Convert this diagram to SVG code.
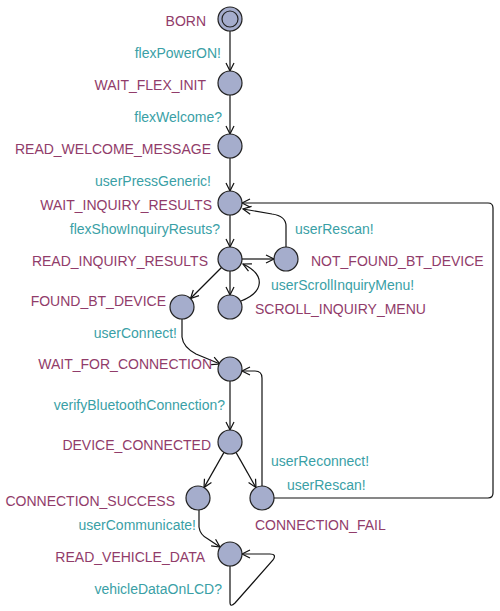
<svg xmlns="http://www.w3.org/2000/svg" width="500" height="611" viewBox="0 0 500 611">
<style>
.loc{fill:#a5adcc;stroke:#222;stroke-width:1.2}
.name{font-family:"Liberation Sans",Arial,sans-serif;font-size:14px;fill:#913c6a}
.sync{font-family:"Liberation Sans",Arial,sans-serif;font-size:14px;fill:#3a9fa6}
.e{fill:none;stroke:#111;stroke-width:1.2;marker-end:url(#arr)}
</style>
<defs>
<marker id="arr" markerUnits="userSpaceOnUse" markerWidth="12" markerHeight="12" refX="9" refY="5" orient="auto" viewBox="0 0 12 10">
<path d="M1,1 L9,5 L1,9" fill="none" stroke="#111" stroke-width="1.2"/>
</marker>
</defs>
<rect width="500" height="611" fill="#fff"/>
<g id="connectors">
<path class="e" d="M230,31 L230,71"/>
<path class="e" d="M230,95 L230,134"/>
<path class="e" d="M230,158 L230,191"/>
<path class="e" d="M230,215 L230,247"/>
<path class="e" d="M242,259 L274,259"/>
<path class="e" d="M286,247 L286,226 Q286,216 272,214 L243,209"/>
<path class="e" d="M230,271 L230,295"/>
<path class="e" d="M241,301 C264,292 266,275 243,264"/>
<path class="e" d="M221.5,267.5 L190.5,298.5"/>
<path class="e" d="M182,319 L182,337 Q183,347 196,354 L220,364"/>
<path class="e" d="M230,381 L230,430"/>
<path class="e" d="M262,486 L262,378 Q262,371 255,371 L242,371"/>
<path class="e" d="M274,498 L488,498 Q493,498 493,493 L493,208 Q493,203 488,203 L242,203"/>
<path class="e" d="M224,452.4 L204,487.6"/>
<path class="e" d="M236,452.4 L256,487.6"/>
<path class="e" d="M199,510 L199,527 Q200,535 208,539 L220,547"/>
<path class="e" d="M230,566 L230,602 Q230,608 235,603 L273,560 Q277,554 270,554 L242,554"/>
</g>
<g class="sync">
<text x="221" y="58" text-anchor="end">flexPowerON!</text>
<text x="222" y="122" text-anchor="end">flexWelcome?</text>
<text x="211" y="186" text-anchor="end">userPressGeneric!</text>
<text x="220" y="234" text-anchor="end">flexShowInquiryResuts?</text>
<text x="295" y="234">userRescan!</text>
<text x="271" y="290">userScrollInquiryMenu!</text>
<text x="177" y="338" text-anchor="end">userConnect!</text>
<text x="225" y="410" text-anchor="end">verifyBluetoothConnection?</text>
<text x="271" y="466">userReconnect!</text>
<text x="287" y="490">userRescan!</text>
<text x="196" y="530" text-anchor="end">userCommunicate!</text>
<text x="222" y="594" text-anchor="end">vehicleDataOnLCD?</text>
</g>
<g id="BORN"><circle class="loc" cx="230" cy="19" r="12"/><circle class="loc" cx="230" cy="19" r="8"/><text class="name" x="206" y="26" text-anchor="end">BORN</text></g>
<g id="WAIT_FLEX_INIT"><circle class="loc" cx="230" cy="83" r="12"/><text class="name" x="206" y="90" text-anchor="end">WAIT_FLEX_INIT</text></g>
<g id="READ_WELCOME_MESSAGE"><circle class="loc" cx="230" cy="146" r="12"/><text class="name" x="211" y="154" text-anchor="end">READ_WELCOME_MESSAGE</text></g>
<g id="WAIT_INQUIRY_RESULTS"><circle class="loc" cx="230" cy="203" r="12"/><text class="name" x="212" y="210" text-anchor="end">WAIT_INQUIRY_RESULTS</text></g>
<g id="READ_INQUIRY_RESULTS"><circle class="loc" cx="230" cy="259" r="12"/><text class="name" x="208" y="266" text-anchor="end">READ_INQUIRY_RESULTS</text></g>
<g id="NOT_FOUND_BT_DEVICE"><circle class="loc" cx="286" cy="259" r="12"/><text class="name" x="311" y="266">NOT_FOUND_BT_DEVICE</text></g>
<g id="FOUND_BT_DEVICE"><circle class="loc" cx="182" cy="307" r="12"/><text class="name" x="166" y="306" text-anchor="end">FOUND_BT_DEVICE</text></g>
<g id="SCROLL_INQUIRY_MENU"><circle class="loc" cx="230" cy="307" r="12"/><text class="name" x="255" y="314">SCROLL_INQUIRY_MENU</text></g>
<g id="WAIT_FOR_CONNECTION"><circle class="loc" cx="230" cy="369" r="12"/><text class="name" x="212" y="369" text-anchor="end">WAIT_FOR_CONNECTION</text></g>
<g id="DEVICE_CONNECTED"><circle class="loc" cx="230" cy="442" r="12"/><text class="name" x="211" y="450" text-anchor="end">DEVICE_CONNECTED</text></g>
<g id="CONNECTION_SUCCESS"><circle class="loc" cx="198" cy="498" r="12"/><text class="name" x="175" y="506" text-anchor="end">CONNECTION_SUCCESS</text></g>
<g id="CONNECTION_FAIL"><circle class="loc" cx="262" cy="498" r="12"/><text class="name" x="255" y="530">CONNECTION_FAIL</text></g>
<g id="READ_VEHICLE_DATA"><circle class="loc" cx="230" cy="554" r="12"/><text class="name" x="205" y="562" text-anchor="end">READ_VEHICLE_DATA</text></g>
</svg>
